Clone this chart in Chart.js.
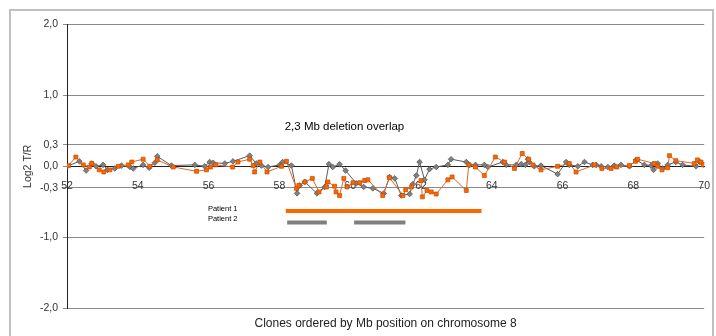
<!DOCTYPE html>
<html>
<head>
<meta charset="utf-8">
<script src="https://cdn.jsdelivr.net/npm/chart.js@4.4.1/dist/chart.umd.min.js"></script>
<style>
  html, body { margin: 0; padding: 0; background: #fff; }
</style>
</head>
<body>
<canvas id="graficoClones" width="716" height="336"></canvas>
<script>
// clone positions (Mb) and log2 ratios
const greyPos = [52.0, 52.35, 52.54, 52.7, 52.82, 53.02, 53.14, 53.35, 53.54, 53.78, 53.87, 54.15, 54.32, 54.48, 54.55, 54.95, 55.61, 55.89, 56.03, 56.13, 56.46, 56.69, 57.16, 57.35, 57.49, 57.68, 58.01, 58.09, 58.34, 58.5, 58.57, 58.72, 59.06, 59.28, 59.4, 59.51, 59.7, 59.87, 60.17, 60.38, 60.64, 60.95, 61.11, 61.26, 61.44, 61.68, 61.77, 61.87, 61.96, 62.1, 62.24, 62.43, 62.76, 62.85, 63.28, 63.37, 63.54, 63.79, 63.89, 64.31, 64.41, 64.69, 64.83, 64.95, 65.02, 65.06, 65.2, 65.39, 65.86, 66.1, 66.19, 66.43, 66.62, 66.85, 66.95, 67.09, 67.28, 67.46, 67.65, 67.89, 68.08, 68.31, 68.5, 68.57, 68.69, 68.83, 68.97, 69.2, 69.39, 69.77, 69.88, 70.0];
const greyVal = [0.0, 0.07, -0.06, 0.04, 0.0, 0.02, -0.05, -0.03, 0.01, -0.01, -0.03, 0.02, -0.02, 0.05, 0.14, 0.01, 0.02, 0.0, 0.06, 0.05, 0.04, 0.07, 0.15, 0.04, 0.01, -0.01, 0.02, 0.06, 0.01, -0.38, -0.27, -0.22, -0.38, -0.29, 0.03, -0.01, 0.03, -0.06, -0.24, -0.29, -0.31, -0.38, -0.15, -0.17, -0.41, -0.39, -0.25, -0.13, 0.06, -0.19, -0.04, -0.01, 0.02, 0.1, 0.06, 0.02, 0.02, 0.02, -0.01, 0.06, 0.02, 0.02, 0.03, 0.02, 0.1, 0.06, 0.0, 0.01, -0.11, 0.06, 0.02, 0.0, 0.06, 0.02, 0.02, 0.0, -0.01, 0.01, 0.02, 0.0, 0.09, 0.02, 0.01, -0.05, 0.04, -0.03, 0.02, 0.06, 0.02, 0.0, 0.06, 0.02];

const orangePos = [52.04, 52.25, 52.46, 52.63, 52.7, 52.91, 53.04, 53.21, 53.45, 53.73, 53.83, 54.15, 54.34, 54.55, 55.0, 55.66, 55.94, 56.05, 56.2, 56.68, 56.83, 57.16, 57.26, 57.3, 57.45, 57.65, 58.06, 58.2, 58.48, 58.55, 58.72, 58.93, 59.12, 59.33, 59.37, 59.56, 59.6, 59.7, 59.82, 59.91, 60.08, 60.27, 60.41, 60.5, 60.92, 61.11, 61.49, 61.57, 61.73, 62.0, 62.04, 62.17, 62.29, 62.43, 62.76, 62.88, 63.28, 63.35, 63.54, 63.79, 64.1, 64.36, 64.64, 64.86, 65.04, 65.16, 65.39, 65.86, 66.19, 66.38, 66.9, 67.11, 67.37, 67.53, 67.89, 68.06, 68.12, 68.59, 68.69, 68.81, 68.97, 69.02, 69.2, 69.72, 69.81, 69.91, 69.98];
const orangeVal = [0.01, 0.13, 0.02, -0.01, 0.04, -0.05, -0.08, -0.05, 0.0, 0.02, 0.06, 0.1, 0.0, 0.09, -0.01, -0.07, -0.05, -0.01, 0.02, -0.01, 0.06, 0.1, 0.01, -0.08, 0.06, -0.08, 0.0, 0.07, -0.31, -0.27, -0.22, -0.17, -0.36, -0.29, -0.22, -0.28, -0.36, -0.41, -0.17, -0.29, -0.23, -0.23, -0.2, -0.19, -0.41, -0.16, -0.41, -0.33, -0.29, -0.2, -0.43, -0.34, -0.36, -0.39, -0.19, -0.15, -0.34, 0.02, -0.01, -0.13, 0.13, 0.06, -0.03, 0.18, 0.1, 0.02, -0.05, 0.0, 0.04, -0.08, 0.02, -0.03, -0.03, -0.01, 0.01, 0.07, 0.1, 0.04, 0.0, -0.05, -0.02, 0.15, 0.08, 0.04, 0.09, 0.06, 0.02];

const yTicks = [-2, -1, -0.3, 0, 0.3, 1, 2];

// deleted regions per patient (Mb)
const patient1 = [[58.18, 63.71]];
const patient2 = [[58.22, 59.34], [60.11, 61.56]];
const patient1Row = -0.63;
const patient2Row = -0.79;

const toPoints = (xs, ys) => xs.map((x, i) => ({ x: x, y: ys[i] }));

const barSets = [];
patient1.forEach((r) => {
  barSets.push({
    data: [{ x: r[0], y: patient1Row }, { x: r[1], y: patient1Row }],
    borderColor: "#ff6600",
    borderWidth: 4,
    borderCapStyle: "butt",
    pointRadius: 0,
  });
});
patient2.forEach((r) => {
  barSets.push({
    data: [{ x: r[0], y: patient2Row }, { x: r[1], y: patient2Row }],
    borderColor: "#808080",
    borderWidth: 4,
    borderCapStyle: "butt",
    pointRadius: 0,
  });
});

const extras = {
  id: "extras",
  beforeDraw(chart) {
    const ctx = chart.ctx;
    ctx.save();
    ctx.strokeStyle = "#c0c0c0";
    ctx.lineWidth = 2;
    ctx.strokeRect(10, 10, 703, 340);
    ctx.restore();
  },
  afterDraw(chart) {
    const ctx = chart.ctx;
    const x = chart.scales.x;
    const y = chart.scales.y;
    ctx.save();
    ctx.fillStyle = "#000";
    ctx.textBaseline = "middle";
    ctx.textAlign = "left";
    ctx.font = "11.5px 'Liberation Sans', Arial, sans-serif";
    ctx.fillText("2,3 Mb deletion overlap", x.getPixelForValue(58.15), y.getPixelForValue(0.55));
    ctx.font = "7.5px 'Liberation Sans', Arial, sans-serif";
    ctx.fillText("Patient 1", x.getPixelForValue(55.98), y.getPixelForValue(-0.6));
    ctx.fillText("Patient 2", x.getPixelForValue(55.98), y.getPixelForValue(-0.735));
    ctx.restore();
  },
};

const ctxClones = document.getElementById("graficoClones");

new Chart(ctxClones, {
  type: "line",
  data: {
    datasets: [
      {
        label: "Patient 1",
        data: toPoints(orangePos, orangeVal),
        borderColor: "#d8692a",
        borderWidth: 1,
        pointStyle: "rect",
        pointRadius: 2.8,
        pointBackgroundColor: "#ff6600",
        pointBorderColor: "#c24a00",
        pointBorderWidth: 0.7,
      },
      {
        label: "Patient 2",
        data: toPoints(greyPos, greyVal),
        borderColor: "#5a5a5a",
        borderWidth: 1,
        pointStyle: "rectRot",
        pointRadius: 2.8,
        pointBackgroundColor: "#808080",
        pointBorderColor: "#505050",
        pointBorderWidth: 0.7,
      },
      ...barSets,
    ],
  },
  options: {
    responsive: false,
    animation: false,
    devicePixelRatio: 1,
    layout: {
      padding: { left: 15, right: 11, top: 24, bottom: 0 },
    },
    plugins: {
      legend: { display: false },
      tooltip: { enabled: false },
      title: {
        display: true,
        position: "bottom",
        fullSize: false,
        text: "Clones ordered by Mb position on chromosome 8",
        color: "#222",
        font: { family: "'Liberation Sans', Arial, sans-serif", size: 12, weight: "normal" },
        padding: { top: 8, bottom: 5 },
      },
    },
    scales: {
      x: {
        type: "linear",
        position: { y: 0 },
        min: 52,
        max: 70,
        grid: { display: false },
        border: { display: true, color: "#222", width: 1 },
        ticks: {
          stepSize: 2,
          padding: 6,
          color: "#333",
          maxRotation: 0,
          font: { family: "'Liberation Sans', Arial, sans-serif", size: 10.5 },
        },
      },
      y: {
        min: -2,
        max: 2,
        afterBuildTicks: (scale) => {
          scale.ticks = yTicks.map((v) => ({ value: v }));
        },
        afterFit: (scale) => {
          scale.width = 52;
        },
        grid: { color: "#8a8a8a", tickLength: 4, lineWidth: 1 },
        border: { display: true, color: "#222", width: 1 },
        ticks: {
          padding: 5,
          color: "#333",
          font: { family: "'Liberation Sans', Arial, sans-serif", size: 10.5 },
          callback: (v) => v.toFixed(1).replace(".", ","),
        },
        title: {
          display: true,
          text: "Log2 T/R",
          color: "#333",
          padding: { top: 7, bottom: 0 },
          font: { family: "'Liberation Sans', Arial, sans-serif", size: 10.5 },
        },
      },
    },
  },
  plugins: [extras],
});
</script>
</body>
</html>
